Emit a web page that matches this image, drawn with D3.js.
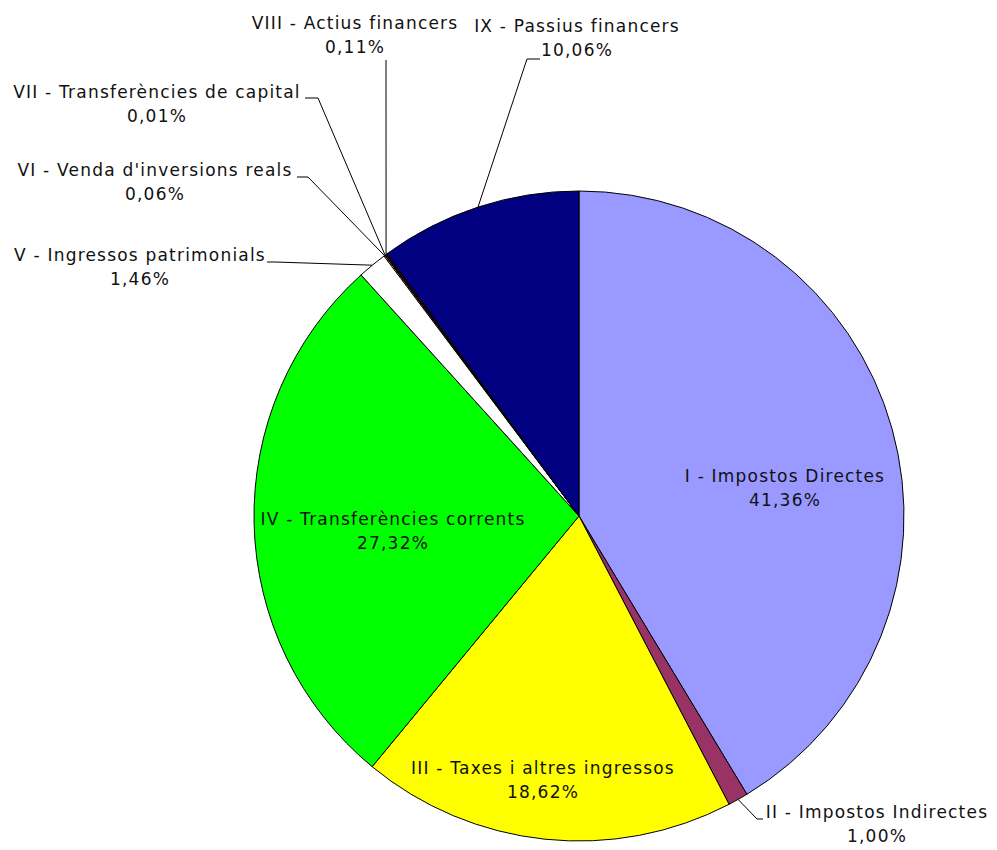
<!DOCTYPE html>
<html>
<head>
<meta charset="utf-8">
<script src="https://cdn.jsdelivr.net/npm/d3@7"></script>
<style>
  body { margin: 0; background: #fff; }
  text { font-family: "DejaVu Sans", Verdana, sans-serif; font-size: 17px; letter-spacing: 1.2px; fill: #111; }
</style>
</head>
<body>
<svg></svg>
<script>
const width = 997;
const height = 850;

// data
const categories = [
  "I - Impostos Directes",
  "II - Impostos Indirectes",
  "III - Taxes i altres ingressos",
  "IV - Transferències corrents",
  "V - Ingressos patrimonials",
  "VI - Venda d'inversions reals",
  "VII - Transferències de capital",
  "VIII - Actius financers",
  "IX - Passius financers"
];
const values = [41.36, 1.00, 18.62, 27.32, 1.46, 0.06, 0.01, 0.11, 10.06];
const colors = ["#9999ff", "#993366", "#ffff00", "#00ff00", "#ffffff", "#ffffff", "#ffffff", "#330000", "#000080"];

// label placement (block centre of the two text lines, leader elbow + tail)
const labelLayout = [
  {x: 785, y: 488},
  {x: 877, y: 824, elbow: [757, 819], tail: [763, 819]},
  {x: 543, y: 780},
  {x: 393, y: 531},
  {x: 140, y: 267, elbow: [275, 262], tail: [267, 262]},
  {x: 155, y: 182, elbow: [308, 177], tail: [297, 177]},
  {x: 157, y: 104, elbow: [318, 98], tail: [305, 98]},
  {x: 355, y: 35, elbow: [386, 60]},
  {x: 577, y: 38, elbow: [527, 59], tail: [540, 59]}
];

const cx = 579, cy = 516, radius = 325;
const lineGap = 24;

const locale = d3.formatLocale({decimal: ",", thousands: ".", grouping: [3], currency: ["", "€"]});
const fmt = locale.format(".2f");

let svg = d3.select("svg")
  .attr("width", width)
  .attr("height", height);

let g = svg.append("g").attr("transform", `translate(${cx},${cy})`);

let pie = d3.pie().sort(null).value(d => d);
let arcs = pie(values);
let arc = d3.arc().innerRadius(0).outerRadius(radius);

g.selectAll("path.slice")
  .data(arcs)
  .enter()
  .append("path")
  .attr("class", "slice")
  .attr("d", arc)
  .attr("fill", (d, i) => colors[i])
  .attr("stroke", "#000")
  .attr("stroke-width", 1)
  .attr("stroke-linejoin", "round");

// leader lines for the outside labels
let edgeArc = d3.arc().innerRadius(radius).outerRadius(radius);
arcs.forEach((d, i) => {
  let lay = labelLayout[i];
  if (!lay.elbow) return;
  let p = edgeArc.centroid(d);
  let pts = [[p[0] + cx, p[1] + cy], lay.elbow];
  if (lay.tail) pts.push(lay.tail);
  svg.append("path")
    .attr("d", d3.line()(pts))
    .attr("fill", "none")
    .attr("stroke", "#000")
    .attr("stroke-width", 1);
});

// labels
let labels = svg.selectAll("g.label")
  .data(arcs)
  .enter()
  .append("g")
  .attr("class", "label")
  .attr("transform", (d, i) => `translate(${labelLayout[i].x},${labelLayout[i].y})`);

labels.append("text")
  .attr("text-anchor", "middle")
  .attr("y", -lineGap / 2)
  .attr("dy", "0.35em")
  .text((d, i) => categories[i]);

labels.append("text")
  .attr("text-anchor", "middle")
  .attr("y", lineGap / 2)
  .attr("dy", "0.35em")
  .text(d => fmt(d.value) + "%");
</script>
</body>
</html>
